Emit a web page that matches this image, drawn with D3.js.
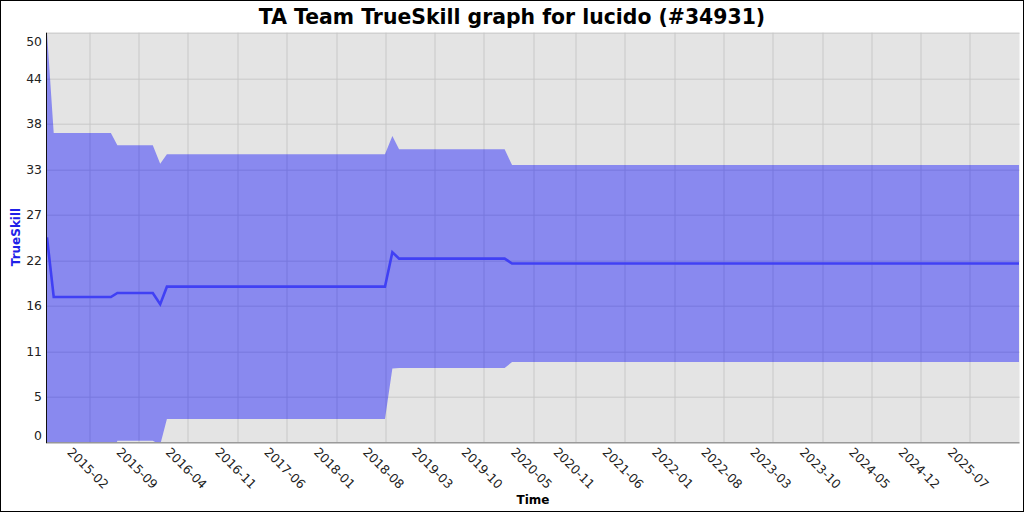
<!DOCTYPE html>
<html>
<head>
<meta charset="utf-8">
<script src="https://cdn.jsdelivr.net/npm/d3@7"></script>
<style>
  body { margin: 0; background: #fff; }
  svg { display: block; font-family: 'DejaVu Sans', sans-serif; }
  .tick-label { font-size: 12.4px; fill: #222; }
  .chart-title { font-size: 20.4px; font-weight: bold; }
  .axis-title { font-size: 12px; font-weight: bold; }
</style>
</head>
<body>
<div id="chart"></div>
<script>
// game dates with rating mean and deviation (band = mu +/- 3 sigma)
const gameDates = ['2014-08-01', '2014-08-30', '2015-05-04', '2015-06-01', '2015-11-01', '2015-12-03',
  '2016-01-01', '2018-07-31', '2018-09-01', '2018-09-30', '2019-12-30', '2020-01-31', '2026-01-29'];
const muValues = [25, 17.73, 17.73, 18.22, 18.22, 16.84, 18.99, 18.99, 23.2, 22.41, 22.41, 21.82, 21.82];
const sigmaValues = [8.333, 6.67, 6.67, 6.01, 6.01, 5.72, 5.39, 5.39, 4.73, 4.45, 4.45, 4.01, 4.01];

const xTickLabels = ['2015-02', '2015-09', '2016-04', '2016-11', '2017-06', '2018-01', '2018-08', '2019-03',
  '2019-10', '2020-05', '2020-11', '2021-06', '2022-01', '2022-08', '2023-03', '2023-10', '2024-05',
  '2024-12', '2025-07'];
const yTickValues = [0, 5.556, 11.111, 16.667, 22.222, 27.778, 33.333, 38.889, 44.444, 50];
const yTickLabels = ['0', '5', '11', '16', '22', '27', '33', '38', '44', '50'];

class TrueSkillChart {

  constructor(_config) {
    this.config = {
      parentElement: _config.parentElement,
      containerWidth: 1024,
      containerHeight: 512,
      margin: {top: 32.7, right: 4.5, bottom: 69.8, left: 46.5}
    };
    this.initVis();
  }

  initVis() {
    let vis = this;
    const c = vis.config;
    vis.width = c.containerWidth - c.margin.left - c.margin.right;
    vis.height = c.containerHeight - c.margin.top - c.margin.bottom;

    vis.svg = d3.select(c.parentElement).append('svg')
        .attr('width', c.containerWidth)
        .attr('height', c.containerHeight);

    // outer frame
    vis.svg.append('rect')
        .attr('x', 0.5).attr('y', 0.5)
        .attr('width', c.containerWidth - 1).attr('height', c.containerHeight - 1)
        .attr('fill', '#fff').attr('stroke', '#000');

    vis.svg.append('defs').append('clipPath').attr('id', 'plot-clip')
      .append('rect')
        .attr('width', vis.width).attr('height', vis.height);

    vis.g = vis.svg.append('g')
        .attr('transform', `translate(${c.margin.left},${c.margin.top})`);

    vis.data = gameDates.map((d, i) => ({
      date: d3.utcParse('%Y-%m-%d')(d),
      mu: muValues[i],
      sigma: sigmaValues[i]
    }));

    vis.xScale = d3.scaleUtc()
        .domain(d3.extent(vis.data, d => d.date))
        .range([0.5, vis.width - 0.5]);

    vis.yScale = d3.scaleLinear()
        .domain([0, 50])
        .range([vis.height, 0]);

    vis.renderVis();
  }

  renderVis() {
    let vis = this;
    const parseMonth = d3.utcParse('%Y-%m');
    const xTicks = xTickLabels.map(parseMonth);

    // plot background
    vis.g.append('rect')
        .attr('width', vis.width).attr('height', vis.height)
        .attr('fill', '#e4e4e4');

    // grid lines
    vis.g.append('g').selectAll('line.vgrid')
        .data(xTicks)
      .join('line')
        .attr('x1', d => Math.round(vis.xScale(d)) + 0.5)
        .attr('x2', d => Math.round(vis.xScale(d)) + 0.5)
        .attr('y1', 0).attr('y2', vis.height)
        .attr('stroke', '#c8c8c8');

    vis.g.append('g').selectAll('line.hgrid')
        .data(yTickValues)
      .join('line')
        .attr('x1', 0).attr('x2', vis.width)
        .attr('y1', d => Math.round(vis.yScale(d)) + 0.5)
        .attr('y2', d => Math.round(vis.yScale(d)) + 0.5)
        .attr('stroke', '#c8c8c8');

    const plot = vis.g.append('g').attr('clip-path', 'url(#plot-clip)');

    // uncertainty band
    const area = d3.area()
        .x(d => vis.xScale(d.date))
        .y0(d => vis.yScale(d.mu - 3 * d.sigma))
        .y1(d => vis.yScale(d.mu + 3 * d.sigma));

    plot.append('path')
        .datum(vis.data)
        .attr('d', area)
        .attr('fill', 'rgba(0,0,255,0.4)');

    // mean skill line
    const line = d3.line()
        .x(d => vis.xScale(d.date))
        .y(d => vis.yScale(d.mu));

    plot.append('path')
        .datum(vis.data)
        .attr('d', line)
        .attr('fill', 'none')
        .attr('stroke', '#4040f4')
        .attr('stroke-width', 2.6)
        .attr('stroke-linejoin', 'miter');

    // axis lines
    vis.g.append('line')
        .attr('x1', 0).attr('x2', vis.width)
        .attr('y1', vis.height + 0.5).attr('y2', vis.height + 0.5)
        .attr('stroke', '#888');
    vis.g.append('line')
        .attr('x1', 0).attr('x2', 0)
        .attr('y1', 0).attr('y2', vis.height + 1)
        .attr('stroke', '#111');

    // y tick labels (end labels are kept inside the plot span)
    vis.g.append('g').selectAll('text')
        .data(yTickValues)
      .join('text')
        .attr('class', 'tick-label')
        .attr('x', -4.5)
        .attr('y', d => Math.min(Math.max(vis.yScale(d), 9), vis.height - 6.5))
        .attr('dy', '0.35em')
        .attr('text-anchor', 'end')
        .text((d, i) => yTickLabels[i]);

    // x tick labels, rotated
    vis.g.append('g').selectAll('text')
        .data(xTicks)
      .join('text')
        .attr('class', 'tick-label')
        .attr('text-anchor', 'middle')
        .attr('dy', '0.35em')
        .attr('transform', d => `translate(${vis.xScale(d) - 1.6},${vis.height + 26}) rotate(45)`)
        .text((d, i) => xTickLabels[i]);

    // titles
    vis.svg.append('text')
        .attr('class', 'chart-title')
        .attr('x', 512).attr('y', 24)
        .attr('text-anchor', 'middle')
        .text('TA Team TrueSkill graph for lucido (#34931)');

    vis.svg.append('text')
        .attr('class', 'axis-title')
        .attr('x', 533).attr('y', 504)
        .attr('text-anchor', 'middle')
        .text('Time');

    vis.svg.append('text')
        .attr('class', 'axis-title')
        .attr('transform', 'translate(20,237) rotate(-90)')
        .attr('text-anchor', 'middle')
        .attr('fill', '#2020e8')
        .text('TrueSkill');
  }
}

new TrueSkillChart({parentElement: '#chart'});
</script>
</body>
</html>
